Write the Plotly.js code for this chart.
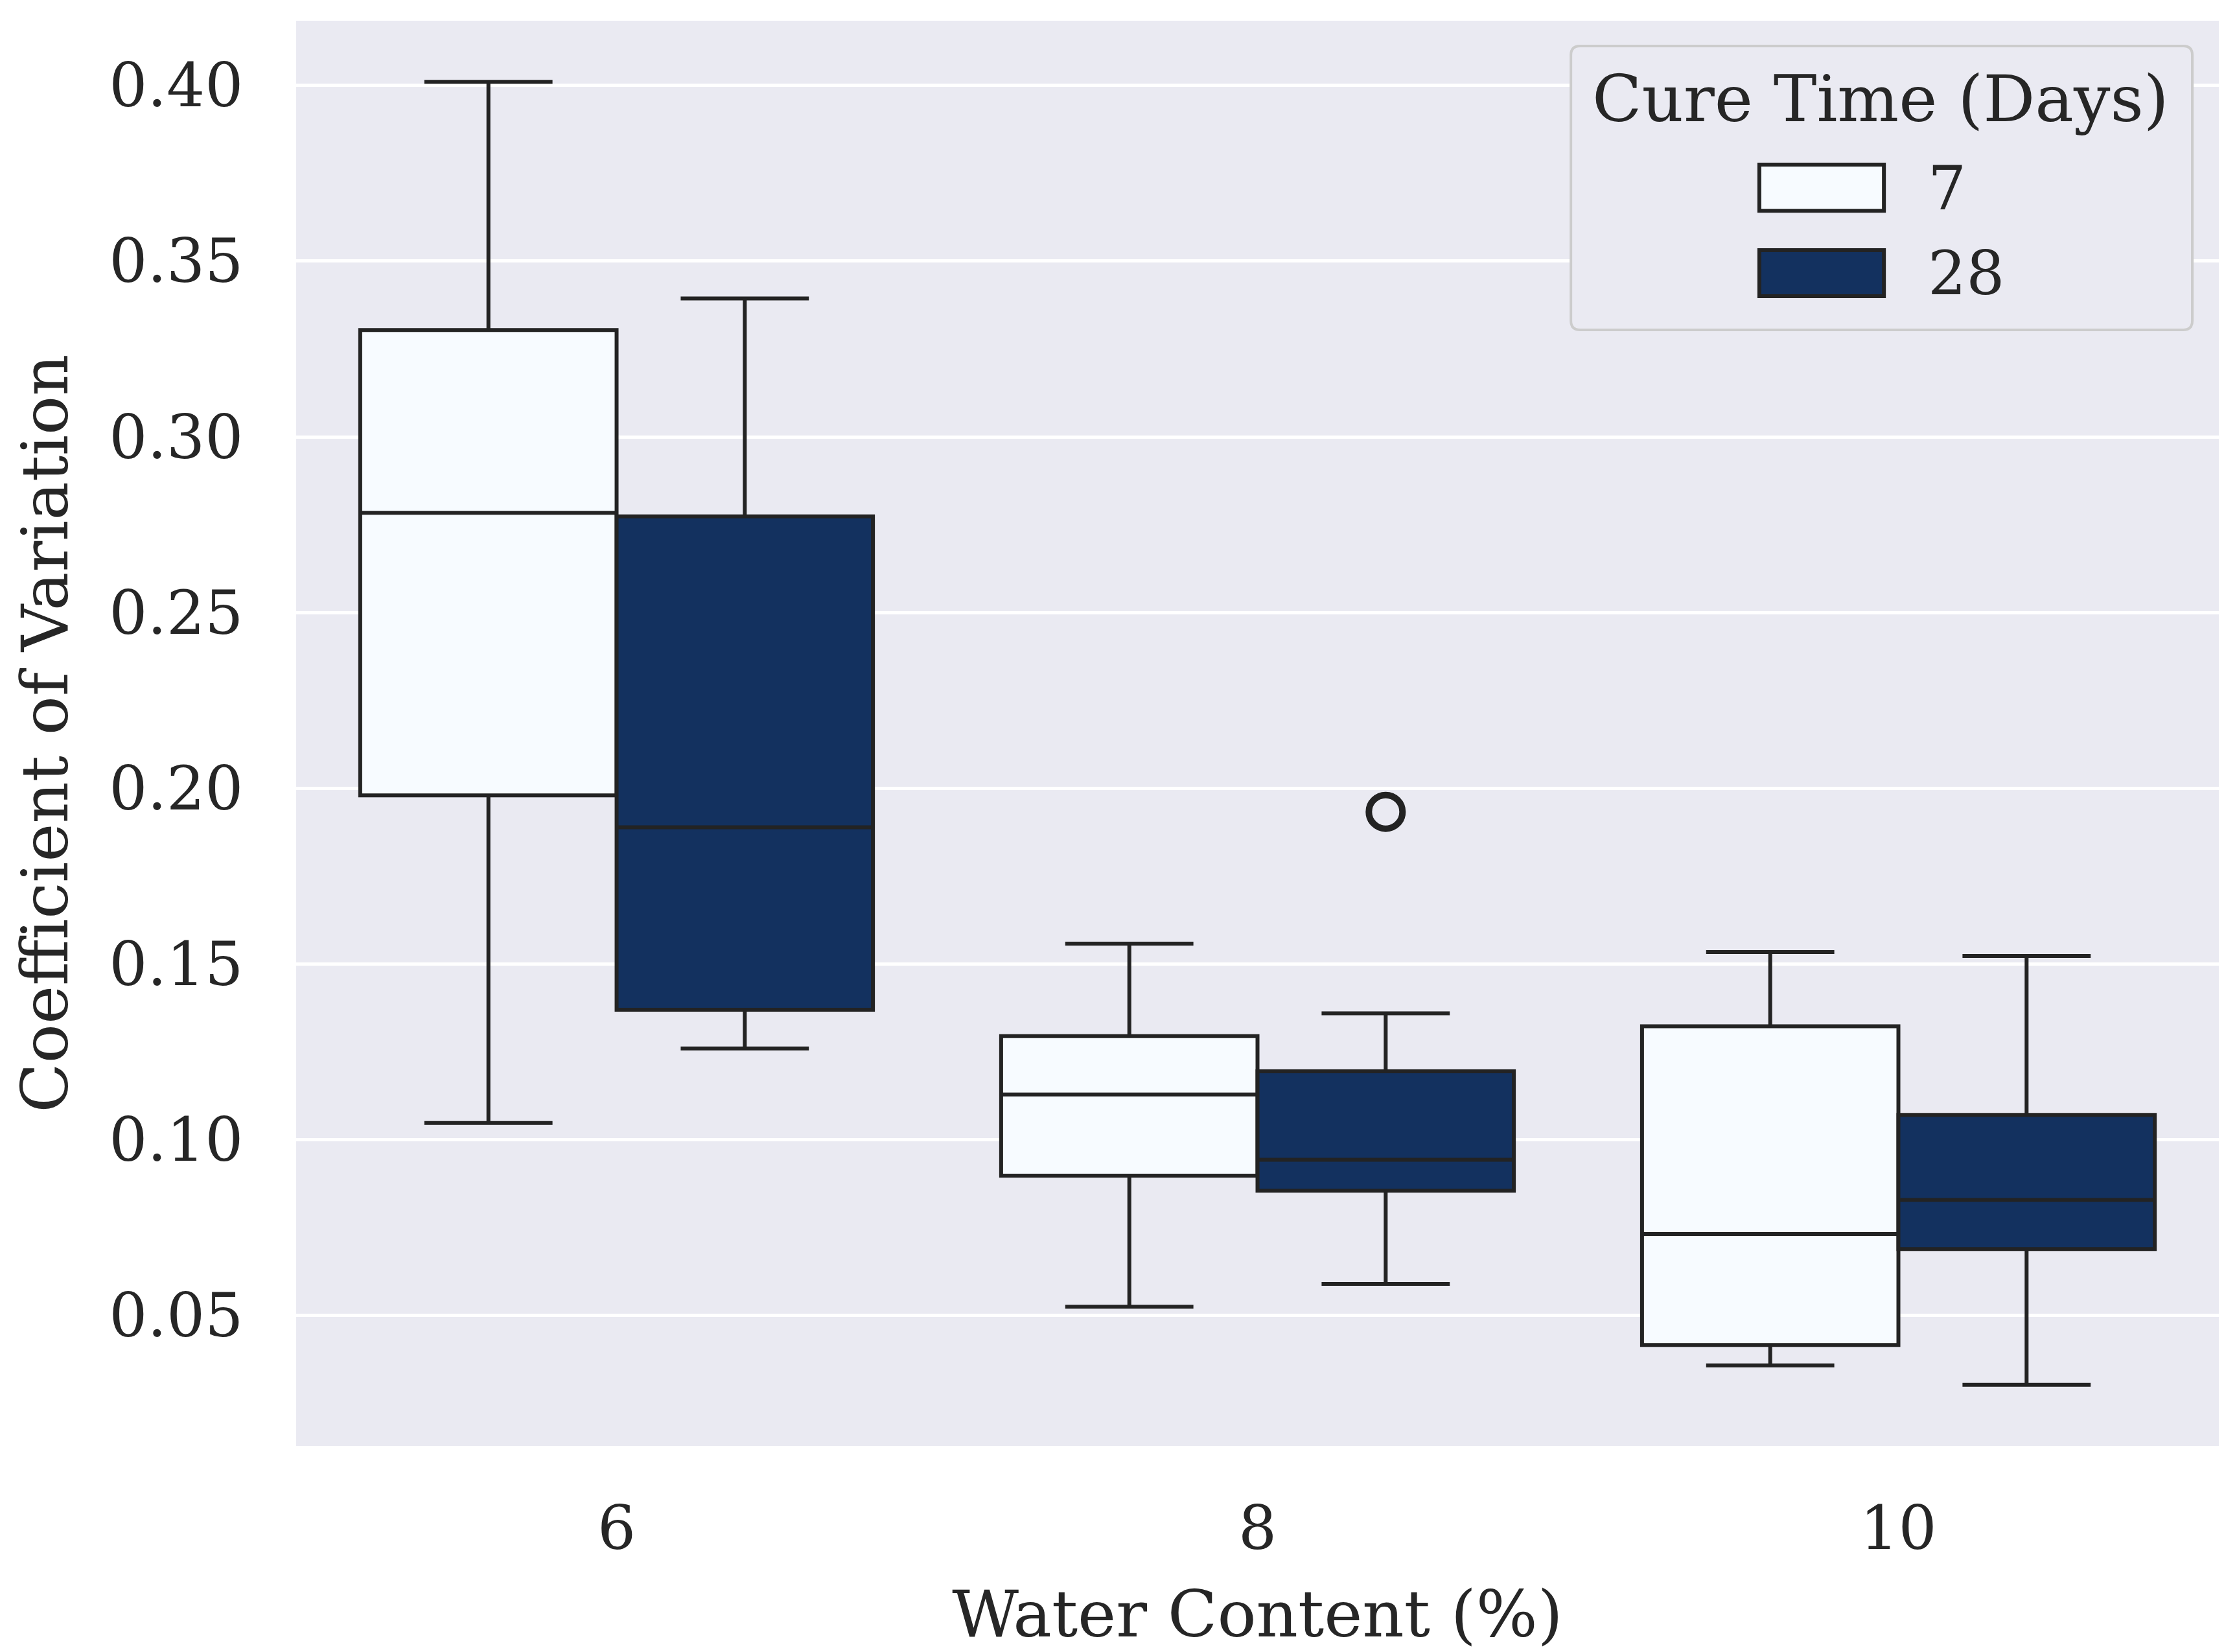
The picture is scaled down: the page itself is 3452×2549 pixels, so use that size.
<!DOCTYPE html>
<html>
<head>
<meta charset="utf-8">
<script src="https://cdn.plot.ly/plotly-3.0.1.min.js"></script>
<style>
  html, body { margin: 0; padding: 0; background: #ffffff; }
  #chart { width: 3452px; height: 2549px; }
</style>
</head>
<body>
<div id="chart"></div>
<script>
// ---- Data ----
const categories = ["6", "8", "10"];          // Water Content (%)
const seriesNames = ["7", "28"];              // Cure Time (Days)

const q1_7      = [0.198, 0.0898, 0.0416];
const median_7  = [0.2784, 0.1129, 0.0732];
const q3_7      = [0.3304, 0.1295, 0.1323];
const lower_7   = [0.1048, 0.0525, 0.0358];
const upper_7   = [0.401, 0.1558, 0.1534];

const q1_28     = [0.137, 0.0855, 0.0689];
const median_28 = [0.1889, 0.0943, 0.0829];
const q3_28     = [0.2774, 0.1195, 0.1071];
const lower_28  = [0.126, 0.059, 0.0303];
const upper_28  = [0.3394, 0.136, 0.1523];

// outliers of the 28-day series
const outlierCategory = ["8"];
const outlierValue = [0.1933];

const yTickVals = [0.05, 0.10, 0.15, 0.20, 0.25, 0.30, 0.35, 0.40];

// ---- Styles ----
const FONT = "DejaVu Serif, Liberation Serif, serif";
const TXT = "#262626";
const EDGE = "#232323";
const colors = ["#F7FBFF", "#13315F"];
const BOXGAP = 0.2;       // group takes 0.8 of the category slot
const nSeries = seriesNames.length;

const catIndex = categories.map((c, i) => i);
const idxOf = c => categories.indexOf(c);

function boxTrace(k, q1, med, q3, lo, hi) {
  return {
    type: "box",
    name: seriesNames[k],
    x: catIndex,
    q1: q1, median: med, q3: q3,
    lowerfence: lo, upperfence: hi,
    boxpoints: false,
    fillcolor: colors[k],
    line: { color: EDGE, width: 6 },
    whiskerwidth: 0.5,
    showlegend: false,
    hoverinfo: "y"
  };
}

const traces = [
  boxTrace(0, q1_7, median_7, q3_7, lower_7, upper_7),
  boxTrace(1, q1_28, median_28, q3_28, lower_28, upper_28)
];

// outlier x: category centre + offset of the 28-day box inside the group
const groupW = 1 - BOXGAP;
const boxW = groupW / nSeries;
const offset28 = -groupW / 2 + boxW * (1 + 0.5);
traces.push({
  type: "scatter",
  mode: "markers",
  x: outlierCategory.map(c => idxOf(c) + offset28),
  y: outlierValue,
  marker: { symbol: "circle-open", size: 52, color: EDGE, line: { width: 10, color: EDGE } },
  showlegend: false,
  hoverinfo: "y"
});

// ---- Custom legend (paper coordinates) ----
const legBox = { x0: 0.6630, x1: 0.9862, y0: 0.7831, y1: 0.9823 };
const swatchX = [0.7610, 0.8258];
const swatchY = [[0.8667, 0.8990], [0.8067, 0.8390]];
const labelY = [0.8823, 0.8226];

function roundRectPath(b, rpx) {
  const rx = rpx / 2967, ry = rpx / 2199;
  return `M ${b.x0 + rx},${b.y0} L ${b.x1 - rx},${b.y0} Q ${b.x1},${b.y0} ${b.x1},${b.y0 + ry} ` +
         `L ${b.x1},${b.y1 - ry} Q ${b.x1},${b.y1} ${b.x1 - rx},${b.y1} ` +
         `L ${b.x0 + rx},${b.y1} Q ${b.x0},${b.y1} ${b.x0},${b.y1 - ry} ` +
         `L ${b.x0},${b.y0 + ry} Q ${b.x0},${b.y0} ${b.x0 + rx},${b.y0} Z`;
}

const shapes = [{
  type: "path", xref: "paper", yref: "paper",
  path: roundRectPath(legBox, 14),
  fillcolor: "#EAEAF2", line: { color: "#CCCCCC", width: 4 }, layer: "above"
}];
seriesNames.forEach((n, k) => {
  shapes.push({
    type: "rect", xref: "paper", yref: "paper",
    x0: swatchX[0], x1: swatchX[1], y0: swatchY[k][0], y1: swatchY[k][1],
    fillcolor: colors[k], line: { color: EDGE, width: 6 }, layer: "above"
  });
});
const annotations = [{
  xref: "paper", yref: "paper", x: 0.8239, y: 0.945,
  text: "Cure Time (Days)", showarrow: false,
  xanchor: "center", yanchor: "middle",
  font: { family: FONT, size: 100, color: TXT }
}];
seriesNames.forEach((n, k) => {
  annotations.push({
    xref: "paper", yref: "paper", x: 0.8480, y: labelY[k],
    text: n, showarrow: false, xanchor: "left", yanchor: "middle",
    font: { family: FONT, size: 93, color: TXT }
  });
});

const layout = {
  width: 3452, height: 2549,
  paper_bgcolor: "#ffffff",
  plot_bgcolor: "#EAEAF2",
  margin: { l: 457, r: 28, t: 32, b: 318, pad: 0 },
  boxmode: "group",
  boxgap: BOXGAP,
  boxgroupgap: 0,
  showlegend: false,
  font: { family: FONT, color: TXT },
  xaxis: {
    range: [-0.5, categories.length - 0.5],
    tickvals: catIndex,
    ticktext: categories,
    showgrid: false, zeroline: false, showline: false,
    ticks: "outside", ticklen: 46, tickcolor: "rgba(0,0,0,0)",
    tickfont: { family: FONT, size: 93, color: TXT },
    title: { text: "Water Content (%)", font: { family: FONT, size: 100, color: TXT }, standoff: 48 }
  },
  yaxis: {
    range: [0.0129, 0.4184],
    tickvals: yTickVals,
    tickformat: ".2f",
    showgrid: true, gridcolor: "#ffffff", gridwidth: 5,
    zeroline: false, showline: false,
    ticks: "outside", ticklen: 62, tickcolor: "rgba(0,0,0,0)",
    tickfont: { family: FONT, size: 93, color: TXT },
    title: { text: "Coefficient of Variation", font: { family: FONT, size: 100, color: TXT }, standoff: 30 }
  },
  shapes: shapes,
  annotations: annotations
};

Plotly.newPlot("chart", traces, layout, { displayModeBar: false, staticPlot: true });
</script>
</body>
</html>
